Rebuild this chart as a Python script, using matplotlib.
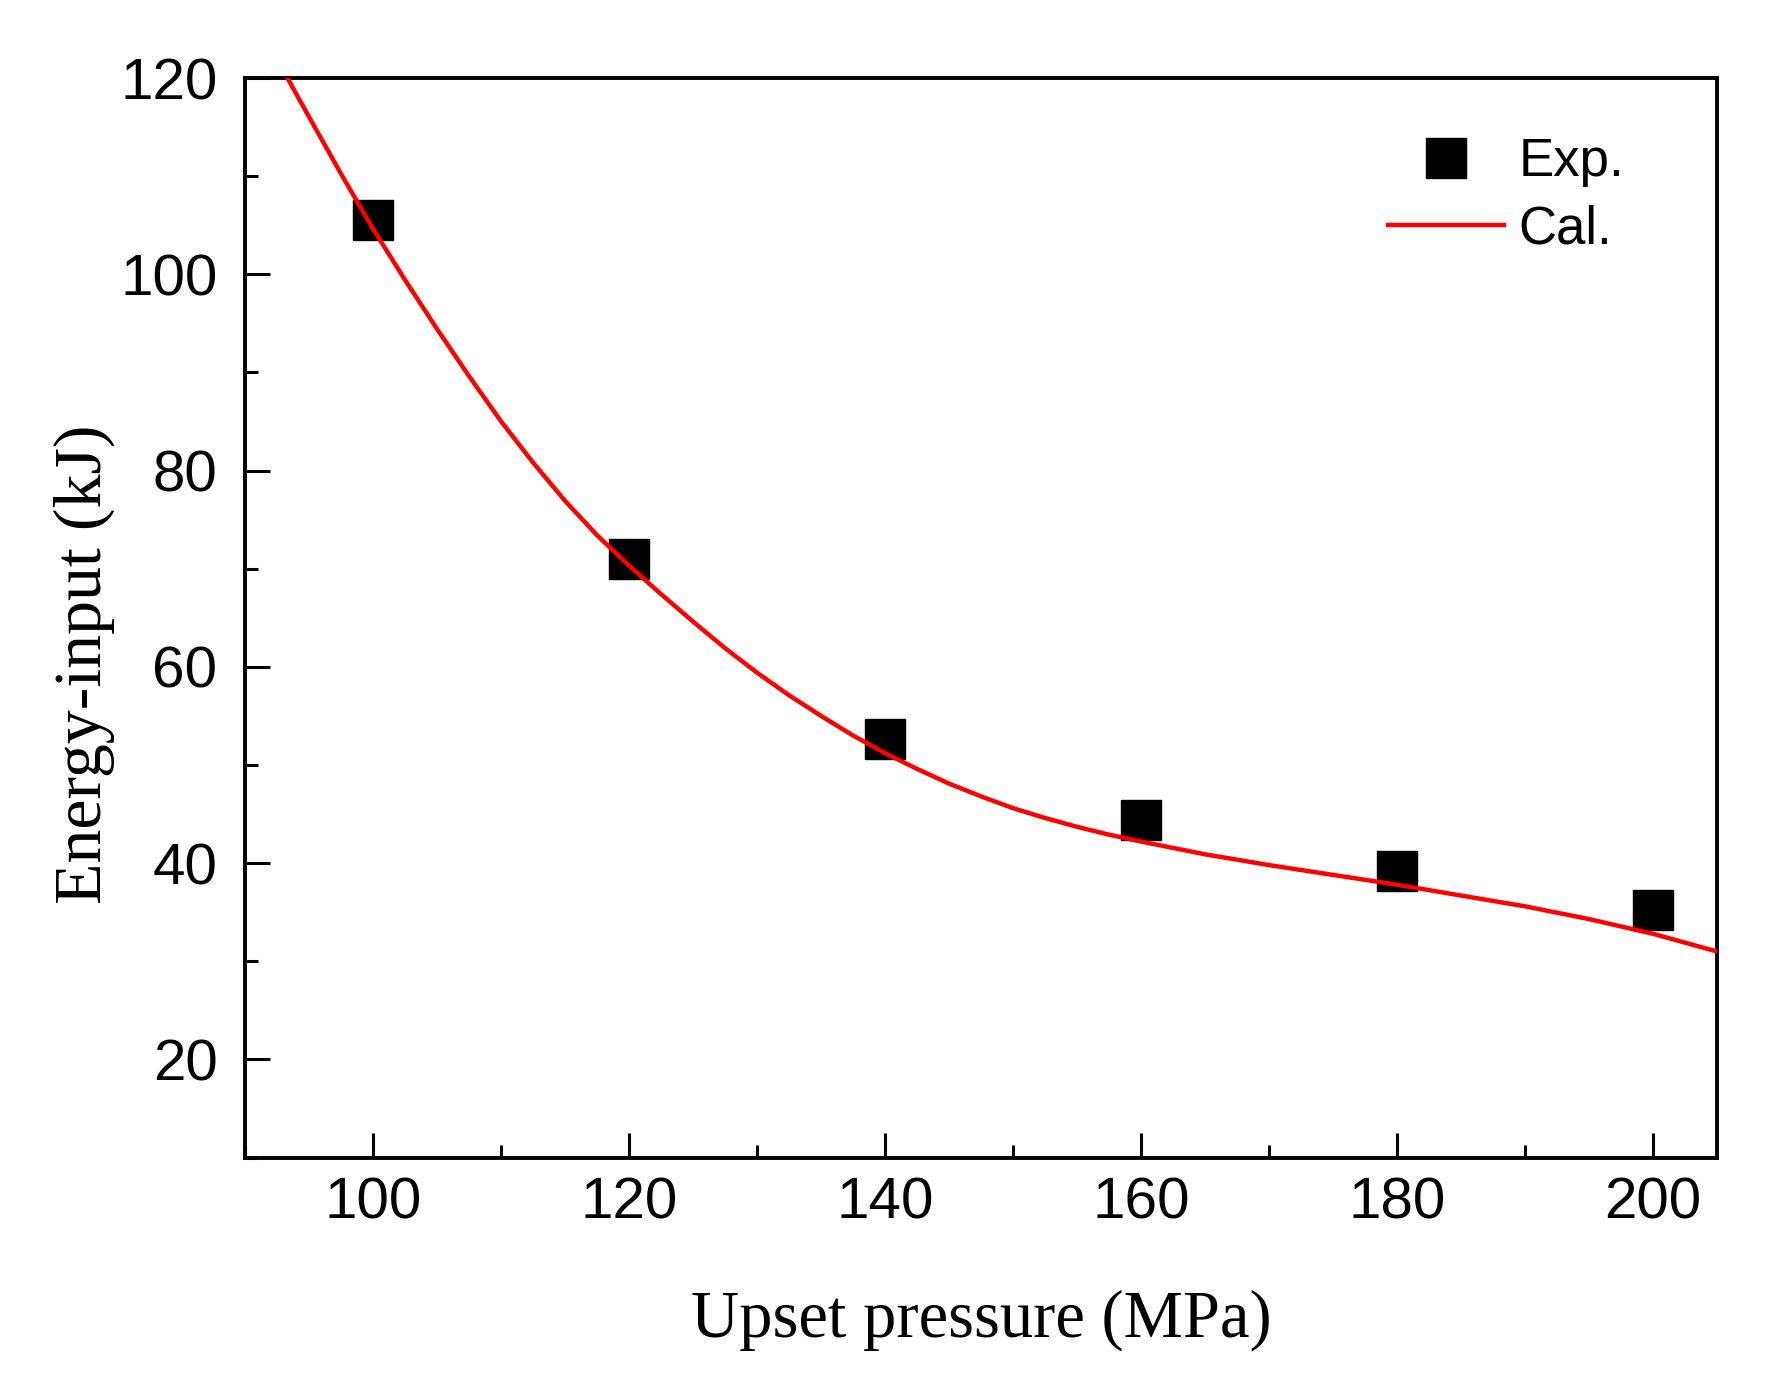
import matplotlib
matplotlib.use("Agg")
import matplotlib.pyplot as plt
from matplotlib.ticker import MultipleLocator

# Experimental data
pressure_exp = [100, 120, 140, 160, 180, 200]
energy_exp = [105.5, 71.0, 52.6, 44.4, 39.2, 35.2]

# Calculated curve
pressure_cal = [93.3, 95, 97.5, 100, 102.5, 105, 107.5, 110, 112.5, 115, 117.5,
                120, 122.5, 125, 127.5, 130, 132.5, 135, 137.5, 140, 142.5,
                145, 147.5, 150, 152.5, 155, 157.5, 160, 165, 170, 175, 180,
                185, 190, 195, 200, 205]
energy_cal = [120.0, 116.0, 110.2, 104.6, 99.4, 94.4, 89.6, 85.0, 80.8, 76.9, 73.4,
              70.3, 67.4, 64.6, 61.9, 59.4, 57.1, 55.0, 53.0, 51.2, 49.6,
              48.1, 46.8, 45.6, 44.6, 43.7, 42.9, 42.2, 40.9, 39.8, 38.8, 37.8,
              36.7, 35.6, 34.3, 32.8, 31.0]

xticks = [100, 120, 140, 160, 180, 200]
yticks = [20, 40, 60, 80, 100, 120]

fig = plt.figure(figsize=(17.68, 13.81), dpi=100)
ax = fig.add_axes([0.1387, 0.1618, 0.9711 - 0.1387, 0.9435 - 0.1618])

ax.plot(pressure_exp, energy_exp, linestyle='none', marker='s', markersize=29,
        color='black', label='Exp.', zorder=2)
ax.plot(pressure_cal, energy_cal, color='red', linewidth=3.2, label='Cal.', zorder=3,
        solid_joinstyle='round')

ax.set_xlim(90, 205)
ax.set_ylim(10, 120)
ax.set_xticks(xticks)
ax.set_yticks(yticks)
ax.xaxis.set_minor_locator(MultipleLocator(10))
ax.yaxis.set_minor_locator(MultipleLocator(10))

for s in ax.spines.values():
    s.set_linewidth(2.8)

ax.tick_params(which='both', direction='in', top=False, right=False, width=2.2)
ax.tick_params(which='major', length=18)
ax.tick_params(which='minor', length=9.5)
ax.tick_params(axis='x', which='major', pad=14)
ax.tick_params(axis='y', which='major', pad=20)
for lab in ax.get_xticklabels() + ax.get_yticklabels():
    lab.set_fontfamily('Liberation Sans')
    lab.set_fontsize(42)

ax.set_xlabel('Upset pressure (MPa)', fontfamily='Liberation Serif', fontsize=48,
              va='baseline')
ax.xaxis.set_label_coords(0.5, -0.166)
ax.set_ylabel('Energy-input (kJ)', fontfamily='Liberation Serif', fontsize=49,
              va='baseline', rotation_mode='anchor')
ax.yaxis.set_label_coords(-0.0985, 0.457)

leg = ax.legend(loc='upper right', bbox_to_anchor=(0.937, 0.945), frameon=False,
                prop={'family': 'Liberation Sans', 'size': 38}, numpoints=1,
                handlelength=2.2, handletextpad=0.28, labelspacing=0.32,
                borderpad=0, borderaxespad=0)

fig.savefig('out.png', dpi=100)
